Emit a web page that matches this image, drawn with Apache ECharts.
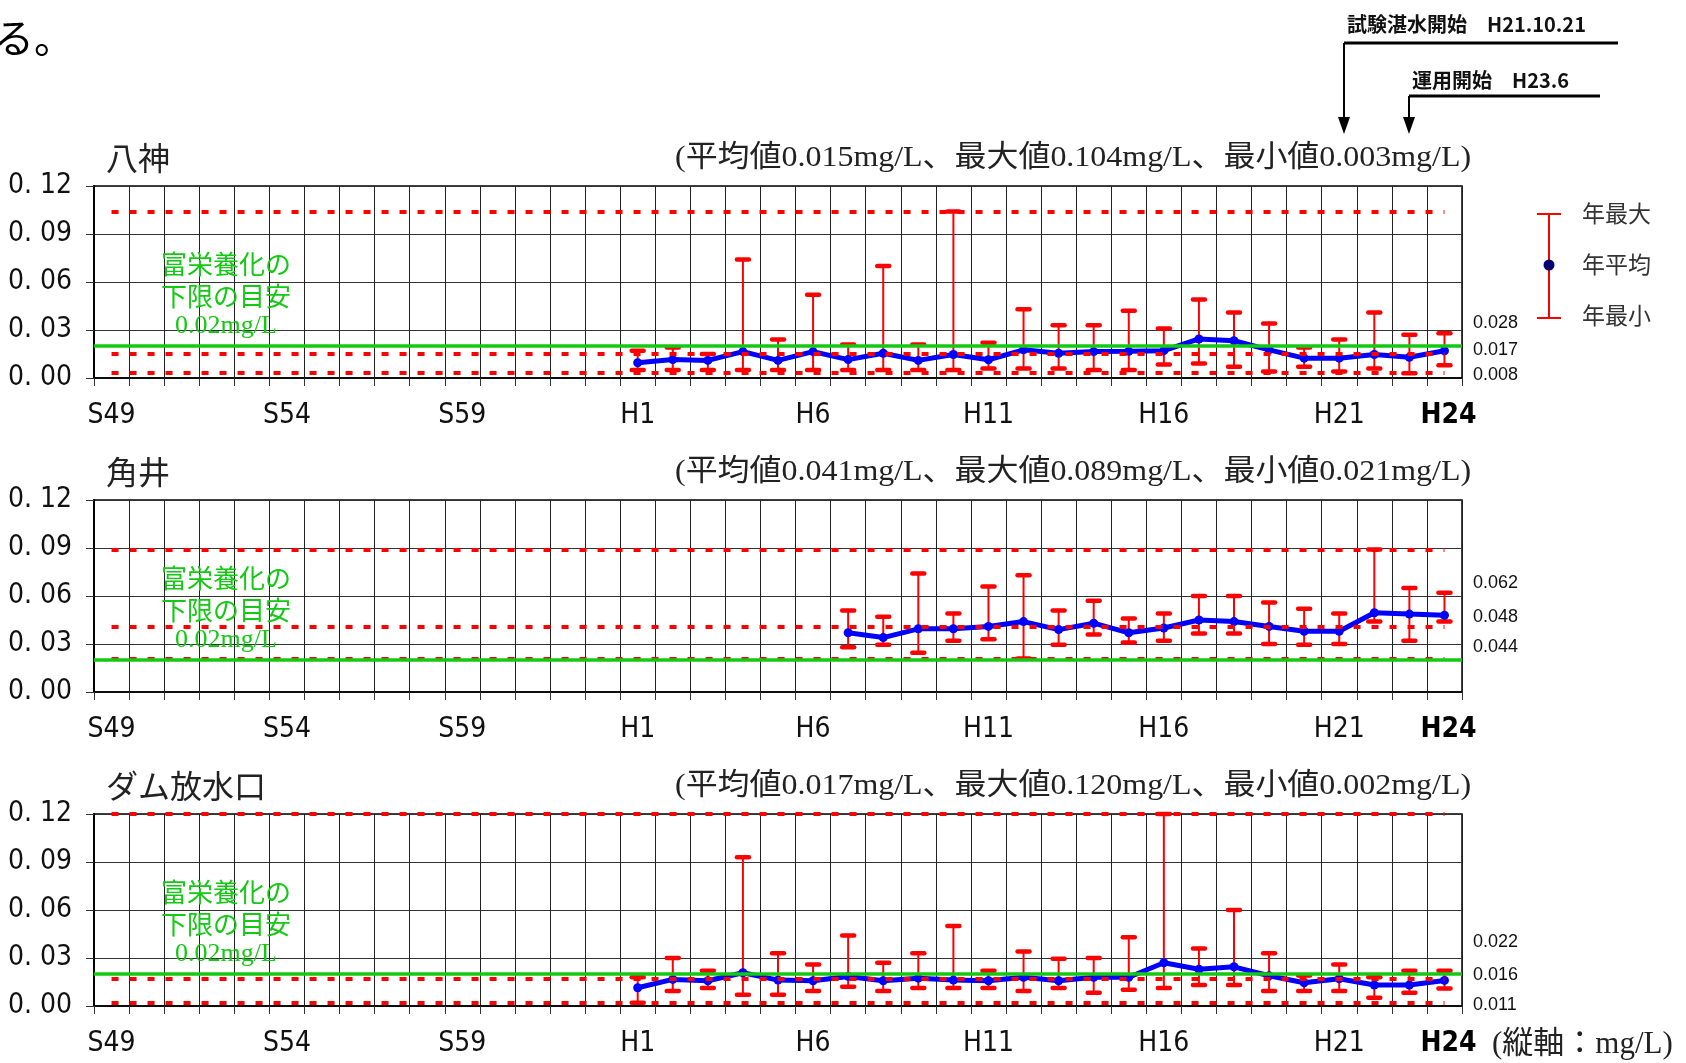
<!DOCTYPE html>
<html><head><meta charset="utf-8">
<script src="https://cdn.jsdelivr.net/npm/echarts@6/dist/echarts.min.js"></script>
<style>html,body{margin:0;padding:0;background:#fff}#c{width:1686px;height:1063px}</style>
</head><body><div id="c"></div>
<script>
// ---------------- data ----------------
const categories = ['S49','S50','S51','S52','S53','S54','S55','S56','S57','S58','S59','S60','S61','S62','S63',
  'H1','H2','H3','H4','H5','H6','H7','H8','H9','H10','H11','H12','H13','H14','H15','H16','H17','H18','H19','H20','H21','H22','H23','H24'];
const tickLabels = ['S49','S54','S59','H1','H6','H11','H16','H21','H24'];
const yTicks = [0, 0.03, 0.06, 0.09, 0.12];
const guideValue = 0.02;

// 八神 (H1-H24)
const yagamiStart = 'H1';
const yagamiMax = [0.017,0.019,0.015,0.074,0.024,0.052,0.021,0.070,0.021,0.104,0.022,0.043,0.033,0.033,0.042,0.031,0.049,0.041,0.034,0.019,0.024,0.041,0.027,0.028];
const yagamiAvg = [0.0095,0.0115,0.011,0.0165,0.011,0.0165,0.0115,0.0155,0.011,0.0147,0.0114,0.0176,0.0155,0.0165,0.0167,0.0171,0.0244,0.0233,0.0176,0.0124,0.0124,0.0147,0.013,0.017];
const yagamiMin = [0.005,0.005,0.005,0.005,0.005,0.005,0.005,0.005,0.005,0.005,0.006,0.006,0.006,0.005,0.005,0.0085,0.009,0.007,0.004,0.007,0.004,0.006,0.003,0.008];
const yagamiStats = [0.015, 0.104, 0.003]; // 平均, 最大, 最小

// 角井 (H7-H24)
const kakuiStart = 'H7';
const kakuiMax = [0.051,0.047,0.074,0.049,0.066,0.073,0.051,0.057,0.046,0.049,0.060,0.060,0.056,0.052,0.049,0.089,0.065,0.062];
const kakuiAvg = [0.037,0.034,0.0395,0.0395,0.041,0.044,0.039,0.043,0.037,0.040,0.045,0.044,0.041,0.038,0.038,0.0495,0.0487,0.048];
const kakuiMin = [0.028,0.0295,0.0245,0.032,0.033,0.021,0.0295,0.036,0.031,0.032,0.0365,0.0365,0.030,0.0295,0.030,0.044,0.032,0.044];
const kakuiStats = [0.041, 0.089, 0.021];

// ダム放水口 (H1-H24)
const damStart = 'H1';
const damMax = [0.018,0.030,0.022,0.093,0.033,0.026,0.044,0.027,0.033,0.050,0.022,0.034,0.0295,0.030,0.043,0.120,0.036,0.060,0.033,0.019,0.026,0.018,0.022,0.022];
const damAvg = [0.0114,0.0166,0.0158,0.0208,0.0162,0.0158,0.0185,0.0158,0.0174,0.0162,0.0158,0.018,0.0158,0.018,0.018,0.027,0.023,0.0245,0.0189,0.0145,0.017,0.0131,0.0131,0.016];
const damMin = [0.002,0.0093,0.0112,0.0071,0.0071,0.0093,0.012,0.0093,0.0112,0.0112,0.0112,0.0093,0.0112,0.0083,0.0102,0.0112,0.0131,0.0131,0.0093,0.0093,0.0093,0.0052,0.0083,0.011];
const damStats = [0.017, 0.120, 0.002];

const panelNames = ['八神', '角井', 'ダム放水口'];

// ---------------- layout / style ----------------
const JP = "'Noto Sans CJK JP', sans-serif";
const SERIF = "'Liberation Serif', 'Noto Sans CJK JP', serif";
const NARROW = "'Liberation Sans Narrow', 'DejaVu Sans Condensed', 'Liberation Sans', sans-serif";
const ARIAL = "'Liberation Sans', Arial, sans-serif";
const RED = '#FF0000', GREEN = '#14C814', BLUE = '#0000FF';

const panels = [
  {start: yagamiStart, max: yagamiMax, avg: yagamiAvg, min: yagamiMin, stats: yagamiStats, top: 186, side: [137, 164, 189]},
  {start: kakuiStart, max: kakuiMax, avg: kakuiAvg, min: kakuiMin, stats: kakuiStats, top: 500, side: [83, 117, 147]},
  {start: damStart, max: damMax, avg: damAvg, min: damMin, stats: damStats, top: 814, side: [128, 161, 191]}
];
const GL = 94, GW = 1368, GH = 192;

const grids = [], xAxes = [], yAxes = [], series = [], graphics = [];

function T(text, x, y, font, fill, align, extra) {
  return Object.assign({type: 'text', x: x, y: y, silent: true, z: 100,
    style: {text: text, font: font, fill: fill, align: align, textAlign: align,
            verticalAlign: 'middle', textVerticalAlign: 'middle'}}, extra || {});
}

function errRender(params, api) {
  const x = api.value(0), lo = api.value(1), hi = api.value(2);
  const a = api.coord([x, lo]), b = api.coord([x, hi]);
  const cw = 6;
  const cap = {stroke: RED, lineWidth: 4.5, lineCap: 'round'};
  return {type: 'group', children: [
    {type: 'line', shape: {x1: a[0], y1: a[1], x2: b[0], y2: b[1]}, style: {stroke: RED, lineWidth: 2}},
    {type: 'line', shape: {x1: b[0]-cw, y1: b[1], x2: b[0]+cw, y2: b[1]}, style: cap},
    {type: 'line', shape: {x1: a[0]-cw, y1: a[1], x2: a[0]+cw, y2: a[1]}, style: cap}
  ]};
}

panels.forEach((p, i) => {
  grids.push({left: GL, top: p.top, width: GW, height: GH, show: true, borderColor: '#000', borderWidth: 1.5, backgroundColor: 'transparent'});
  xAxes.push({type: 'category', gridIndex: i, data: categories, boundaryGap: true,
    axisLine: {lineStyle: {color: '#000', width: 1.5}},
    axisTick: {show: true, interval: 0, length: 8, lineStyle: {color: '#333'}},
    axisLabel: {interval: 0, margin: 24, color: '#111', fontSize: 28, fontFamily: NARROW,
      formatter: v => tickLabels.includes(v) ? (v === 'H24' ? '{b|' + v + '}' : v) : '',
      rich: {b: {fontWeight: 'bold', fontSize: 28, fontFamily: NARROW, color: '#000', padding: [0, 0, 6, 8]}}},
    splitLine: {show: true, interval: 0, lineStyle: {color: '#222', width: 1}}
  });
  yAxes.push({type: 'value', gridIndex: i, min: yTicks[0], max: yTicks[yTicks.length-1], interval: 0.03,
    axisLine: {show: true, lineStyle: {color: '#000', width: 2}},
    axisTick: {show: true, length: 8, lineStyle: {color: '#333'}},
    axisLabel: {margin: 22, color: '#111', fontSize: 28, fontFamily: NARROW,
      formatter: v => v.toFixed(2).replace('.', '. ')},
    splitLine: {show: true, lineStyle: {color: '#333', width: 1}}
  });
  const s0 = categories.indexOf(p.start);
  const empty = categories.map(() => '-');
  // red dotted reference lines (avg / max / min)
  series.push({type: 'line', xAxisIndex: i, yAxisIndex: i, data: empty, showSymbol: false, silent: true, z: 1,
    markLine: {silent: true, symbol: 'none', label: {show: false},
      lineStyle: {color: RED, type: [7, 11], width: 4},
      data: p.stats.map(v => [{coord: [categories[0], v]}, {coord: [categories[categories.length-1], v]}])}
  });
  // green guide line
  series.push({type: 'line', xAxisIndex: i, yAxisIndex: i, data: empty, showSymbol: false, silent: true, z: 2,
    markLine: {silent: true, symbol: 'none', label: {show: false},
      lineStyle: {color: GREEN, type: 'solid', width: 3.5},
      data: [{yAxis: guideValue}]}
  });
  // error bars
  series.push({type: 'custom', xAxisIndex: i, yAxisIndex: i, z: 3, silent: true,
    renderItem: errRender, encode: {x: 0, y: [1, 2]},
    data: p.max.map((m, k) => [s0 + k, p.min[k], m])
  });
  // average line
  const avgData = categories.map((c, k) => (k >= s0 && k - s0 < p.avg.length) ? p.avg[k - s0] : '-');
  series.push({type: 'line', xAxisIndex: i, yAxisIndex: i, z: 4, data: avgData, silent: true,
    symbol: 'circle', symbolSize: 9, itemStyle: {color: BLUE},
    lineStyle: {color: BLUE, width: 5}});

  // titles
  graphics.push(T(panelNames[i], 106, p.top - 28, '32px ' + JP, '#222', 'left'));
  graphics.push(T('(平均値' + p.stats[0].toFixed(3) + 'mg/L、最大値' + p.stats[1].toFixed(3) + 'mg/L、最小値' + p.stats[2].toFixed(3) + 'mg/L)',
    675, p.top - 28, '30px ' + SERIF, '#222', 'left', {scaleX: 1.065, originX: 0, originY: 0}));
  // green annotation
  graphics.push(T('富栄養化の', 226, p.top + 78, '26px ' + JP, GREEN, 'center'));
  graphics.push(T('下限の目安', 226, p.top + 110, '26px ' + JP, GREEN, 'center'));
  graphics.push(T(guideValue.toFixed(2) + 'mg/L', 226, p.top + 140, '26px ' + SERIF, GREEN, 'center'));
  // last-year values on the right
  const n = p.avg.length - 1;
  graphics.push(T(p.max[n].toFixed(3), 1473, p.top + p.side[0], '18px ' + ARIAL, '#111', 'left'));
  graphics.push(T(p.avg[n].toFixed(3), 1473, p.top + p.side[1], '18px ' + ARIAL, '#111', 'left'));
  graphics.push(T(p.min[n].toFixed(3), 1473, p.top + p.side[2], '18px ' + ARIAL, '#111', 'left'));
});

// legend
graphics.push({type: 'line', silent: true, shape: {x1: 1549, y1: 214, x2: 1549, y2: 318}, style: {stroke: RED, lineWidth: 2}});
graphics.push({type: 'line', silent: true, shape: {x1: 1537, y1: 214, x2: 1561, y2: 214}, style: {stroke: RED, lineWidth: 2}});
graphics.push({type: 'line', silent: true, shape: {x1: 1537, y1: 318, x2: 1561, y2: 318}, style: {stroke: RED, lineWidth: 2}});
graphics.push({type: 'circle', silent: true, shape: {cx: 1549, cy: 265, r: 5.5}, style: {fill: '#000070'}});
graphics.push(T('年最大', 1582, 213, '23px ' + JP, '#333', 'left'));
graphics.push(T('年平均', 1582, 264, '23px ' + JP, '#333', 'left'));
graphics.push(T('年最小', 1582, 315, '23px ' + JP, '#333', 'left'));

// top annotations
graphics.push(T('る。', -6, 38, '40px ' + JP, '#000', 'left'));
graphics.push(T('試験湛水開始　H21.10.21', 1347, 24, 'bold 20px ' + JP, '#111', 'left'));
graphics.push({type: 'line', silent: true, shape: {x1: 1344, y1: 43, x2: 1618, y2: 43}, style: {stroke: '#000', lineWidth: 3}});
graphics.push({type: 'line', silent: true, shape: {x1: 1344, y1: 43, x2: 1344, y2: 120}, style: {stroke: '#000', lineWidth: 2}});
graphics.push({type: 'polygon', silent: true, shape: {points: [[1338, 117], [1350, 117], [1344, 134]]}, style: {fill: '#000'}});
graphics.push(T('運用開始　H23.6', 1412, 80, 'bold 20px ' + JP, '#111', 'left'));
graphics.push({type: 'line', silent: true, shape: {x1: 1409, y1: 96, x2: 1600, y2: 96}, style: {stroke: '#000', lineWidth: 3}});
graphics.push({type: 'line', silent: true, shape: {x1: 1409, y1: 96, x2: 1409, y2: 120}, style: {stroke: '#000', lineWidth: 2}});
graphics.push({type: 'polygon', silent: true, shape: {points: [[1403, 117], [1415, 117], [1409, 134]]}, style: {fill: '#000'}});

// unit note
graphics.push(T('(縦軸：mg/L)', 1492, 1045, '31px ' + SERIF, '#222', 'left'));

const chart = echarts.init(document.getElementById('c'), null, {renderer: 'canvas'});
chart.setOption({
  animation: false,
  backgroundColor: '#fff',
  grid: grids, xAxis: xAxes, yAxis: yAxes, series: series,
  graphic: {elements: graphics}
});
</script>
</body></html>
